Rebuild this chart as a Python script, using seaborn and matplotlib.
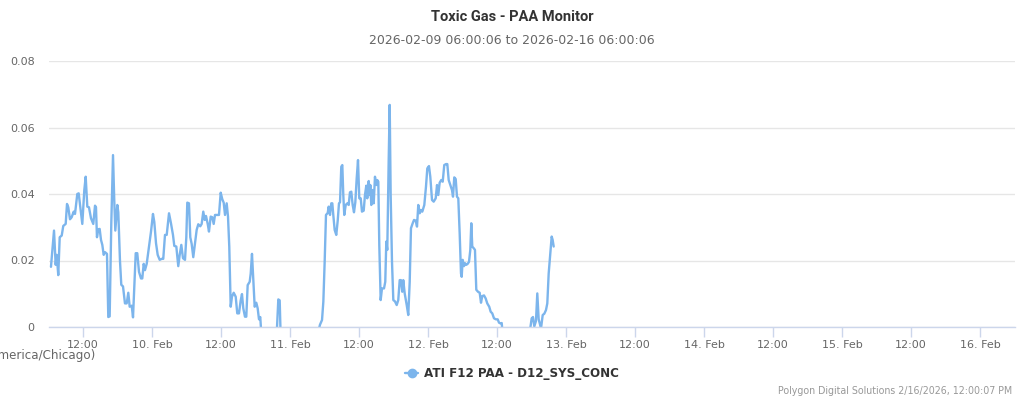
import numpy as np
import pandas as pd
import matplotlib
matplotlib.use("Agg")
import matplotlib.pyplot as plt
import matplotlib.dates as mdates
from matplotlib.ticker import FuncFormatter, FixedLocator
from matplotlib.lines import Line2D
import seaborn as sns

# ---- data: hours since 2026-02-09 00:00 (America/Chicago) and PAA concentration ----
hours = [
    6.43, 6.96, 7.25, 7.43, 7.70, 7.95, 8.30, 8.57, 8.99, 9.22, 9.44, 9.74, 10.03, 10.38, 10.61,
    11.01, 11.25, 11.53, 11.88, 12.23, 12.47, 12.75, 13.04, 13.39, 13.79, 14.09, 14.26, 14.43,
    14.66, 14.90, 15.13, 15.36, 15.60, 15.83, 16.17, 16.40, 16.64, 16.92, 17.22, 17.44, 17.62,
    17.97, 18.14, 18.43, 18.66, 18.96, 19.30, 19.60, 19.88, 20.12, 20.47, 20.70, 20.92, 21.17,
    21.44, 21.74, 22.09, 22.31, 22.56, 22.78, 23.08, 23.48, 23.83, 24.17, 24.40, 24.70, 24.99,
    25.34, 25.69, 25.96, 26.26, 26.56, 26.96, 27.30, 27.65, 27.88, 28.23, 28.57, 28.82, 29.10,
    29.39, 29.74, 29.97, 30.14, 30.43, 30.66, 30.90, 31.18, 31.48, 31.77, 32.05, 32.40, 32.64,
    32.92, 33.17, 33.39, 33.69, 33.91, 34.21, 34.49, 34.73, 34.96, 35.30, 35.65, 35.95, 36.23,
    36.47, 36.70, 36.99, 37.22, 37.44, 37.69, 37.91, 38.21, 38.56, 38.83, 39.13, 39.42, 39.65,
    39.88, 40.17, 40.40, 40.64, 40.99, 41.17, 41.39, 41.62, 41.86, 42.14, 42.38, 42.61, 42.83,
    43.08, 44.52, 45.69, 45.97, 46.21, 46.38, 49.74, 52.97, 53.22, 53.57, 53.80, 54.03, 54.26,
    54.56, 54.73, 54.96, 55.18, 55.36, 55.53, 55.77, 56.05, 56.30, 56.52, 56.70, 56.92, 57.10,
    57.27, 57.44, 57.69, 57.97, 58.21, 58.43, 58.66, 58.90, 59.13, 59.36, 59.60, 59.83, 60.05,
    60.30, 60.52, 60.82, 61.04, 61.27, 61.44, 61.69, 61.86, 61.97, 62.14, 62.38, 62.56, 62.78,
    63.01, 63.18, 63.36, 63.53, 63.77, 64.00, 64.35, 64.57, 64.75, 64.92, 65.16, 65.34, 65.51,
    65.74, 65.97, 66.26, 66.56, 66.83, 67.08, 67.30, 67.53, 67.70, 67.95, 68.30, 68.57, 68.82,
    69.04, 69.34, 69.57, 69.86, 70.09, 70.31, 70.56, 70.78, 71.01, 71.36, 71.65, 71.88, 72.17,
    72.40, 72.70, 72.99, 73.34, 73.57, 73.79, 74.03, 74.31, 74.56, 74.83, 75.13, 75.36, 75.60,
    75.88, 76.17, 76.35, 76.57, 76.82, 77.04, 77.27, 77.51, 77.74, 77.86, 78.03, 78.26, 78.43,
    78.66, 78.90, 79.13, 79.36, 79.53, 79.70, 79.95, 80.17, 80.40, 80.70, 80.99, 81.22, 81.44,
    81.74, 82.03, 82.31, 82.65, 82.90, 83.18, 83.48, 83.83, 84.12, 84.35, 84.58, 84.82, 84.99,
    87.13, 89.74, 90.03, 90.26, 90.49, 90.78, 91.01, 91.25, 91.48, 91.65, 91.95, 92.23, 92.52,
    92.75, 92.99, 93.27, 93.51, 93.68, 93.86,
]
conc = [
    0.0181, 0.0290, 0.0187, 0.0217, 0.0156, 0.0270, 0.0275, 0.0304, 0.0310, 0.0370, 0.0360, 0.0324, 0.0330, 0.0347, 0.0340,
    0.0400, 0.0402, 0.0362, 0.0310, 0.0412, 0.0452, 0.0362, 0.0360, 0.0327, 0.0310, 0.0365, 0.0360, 0.0270,
    0.0294, 0.0295, 0.0262, 0.0247, 0.0217, 0.0225, 0.0220, 0.0030, 0.0032, 0.0310, 0.0517, 0.0380, 0.0290,
    0.0367, 0.0345, 0.0200, 0.0127, 0.0122, 0.0071, 0.0071, 0.0103, 0.0061, 0.0064, 0.0029, 0.0121, 0.0222,
    0.0222, 0.0166, 0.0146, 0.0146, 0.0190, 0.0171, 0.0190, 0.0241, 0.0287, 0.0340, 0.0316, 0.0252, 0.0217,
    0.0202, 0.0205, 0.0205, 0.0277, 0.0277, 0.0342, 0.0312, 0.0277, 0.0244, 0.0242, 0.0183, 0.0217, 0.0247,
    0.0207, 0.0202, 0.0270, 0.0374, 0.0372, 0.0270, 0.0250, 0.0210, 0.0252, 0.0292, 0.0309, 0.0303, 0.0310,
    0.0347, 0.0322, 0.0334, 0.0310, 0.0287, 0.0332, 0.0330, 0.0310, 0.0337, 0.0337, 0.0337, 0.0404, 0.0384,
    0.0374, 0.0337, 0.0372, 0.0332, 0.0242, 0.0061, 0.0091, 0.0103, 0.0091, 0.0041, 0.0041, 0.0079, 0.0099,
    0.0056, 0.0031, 0.0031, 0.0126, 0.0136, 0.0161, 0.0220, 0.0141, 0.0061, 0.0073, 0.0056, 0.0023, 0.0030,
    -0.0040, -0.0060, -0.0020, 0.0083, 0.0080, -0.0030, -0.0060, -0.0010, 0.0007, 0.0021, 0.0076, 0.0196, 0.0337,
    0.0343, 0.0362, 0.0337, 0.0372, 0.0372, 0.0337, 0.0292, 0.0277, 0.0320, 0.0372, 0.0375, 0.0482, 0.0487,
    0.0397, 0.0337, 0.0367, 0.0372, 0.0367, 0.0405, 0.0407, 0.0367, 0.0345, 0.0375, 0.0447, 0.0502, 0.0387,
    0.0387, 0.0347, 0.0350, 0.0397, 0.0425, 0.0387, 0.0439, 0.0397, 0.0427, 0.0367, 0.0412, 0.0372, 0.0452,
    0.0427, 0.0442, 0.0437, 0.0247, 0.0081, 0.0116, 0.0116, 0.0136, 0.0257, 0.0232, 0.0497, 0.0668, 0.0397,
    0.0196, 0.0081, 0.0077, 0.0066, 0.0081, 0.0141, 0.0141, 0.0106, 0.0141, 0.0101, 0.0066, 0.0036, 0.0136,
    0.0297, 0.0312, 0.0322, 0.0320, 0.0302, 0.0367, 0.0342, 0.0352, 0.0347, 0.0367, 0.0422, 0.0477, 0.0484,
    0.0452, 0.0382, 0.0377, 0.0387, 0.0427, 0.0397, 0.0434, 0.0442, 0.0437, 0.0487, 0.0490, 0.0490, 0.0442,
    0.0427, 0.0412, 0.0392, 0.0450, 0.0445, 0.0392, 0.0387, 0.0282, 0.0161, 0.0151, 0.0202, 0.0183, 0.0192,
    0.0187, 0.0190, 0.0196, 0.0232, 0.0312, 0.0242, 0.0237, 0.0232, 0.0112, 0.0106, 0.0103, 0.0073, 0.0093,
    0.0095, 0.0086, 0.0071, 0.0061, 0.0046, 0.0041, 0.0026, 0.0023, 0.0023, 0.0013, 0.0011, 0.0012, -0.0020,
    -0.0060, -0.0010, 0.0026, 0.0030, 0.0002, 0.0018, 0.0101, 0.0023, 0.0008, -0.0005, 0.0036, 0.0040, 0.0051,
    0.0071, 0.0161, 0.0222, 0.0272, 0.0262, 0.0242,
]
yticks = [0, 0.02, 0.04, 0.06, 0.08]
ytick_labels = ["0", "0.02", "0.04", "0.06", "0.08"]
series_name = "ATI F12 PAA - D12_SYS_CONC"
title = "Toxic Gas - PAA Monitor"
subtitle = "2026-02-09 06:00:06 to 2026-02-16 06:00:06"
x_title = "Time (America/Chicago)"
credit = "Polygon Digital Solutions 2/16/2026, 12:00:07 PM"
t_start = pd.Timestamp("2026-02-09 06:00:06")
t_end = pd.Timestamp("2026-02-16 06:00:06")

df = pd.DataFrame({
    "time": pd.Timestamp("2026-02-09") + pd.to_timedelta(hours, unit="h"),
    "conc": conc,
})

sns.set_theme(style="white")
plt.rcParams["font.family"] = ["DejaVu Sans"]

LINE = "#7cb5ec"
fig = plt.figure(figsize=(10.24, 4), dpi=100)
ax = fig.add_axes([48.5 / 1024, 73 / 400, 966 / 1024, 266 / 400])

sns.lineplot(data=df, x="time", y="conc", ax=ax, color=LINE, linewidth=1.7,
             estimator=None, sort=False, legend=False)

ax.set_xlim(t_start, t_end)
ax.set_ylim(0, 0.08)
ax.yaxis.set_major_locator(FixedLocator(yticks))
ax.set_yticklabels(ytick_labels)
ax.grid(axis="y", color="#e6e6e6", linewidth=1)
ax.grid(axis="x", visible=False)
for s in ["top", "right", "left"]:
    ax.spines[s].set_visible(False)
ax.spines["bottom"].set_color("#ccd6eb")
ax.spines["bottom"].set_linewidth(1)

ax.xaxis.set_major_locator(mdates.HourLocator(byhour=[0, 12]))
def fmt(x, pos):
    d = mdates.num2date(x)
    return d.strftime("%H:%M") if d.hour == 12 else f"{d.day}. {d.strftime('%b')}"
ax.xaxis.set_major_formatter(FuncFormatter(fmt))
ax.tick_params(axis="x", which="major", bottom=True, length=7, width=1,
               color="#ccd6eb", labelcolor="#666666", labelsize=8, pad=2, direction="out")
ax.tick_params(axis="y", length=0, labelsize=8, pad=10, labelcolor="#666666")
ax.set_xlabel("")
ax.set_ylabel("")

fig.text(95 / 1024, 1 - 356 / 400, x_title, ha="right", va="center",
         fontsize=8.6, color="#666666")

fig.text(0.5, 1 - 17 / 400, title, ha="center", va="center", fontsize=10.5,
         fontweight="bold", color="#333333",
         family=["Liberation Sans Narrow", "Roboto", "DejaVu Sans"])
fig.text(0.5, 1 - 41 / 400, subtitle, ha="center", va="center", fontsize=9,
         color="#666666")

handle = Line2D([], [], color=LINE, linewidth=1.7, marker="o", markersize=6)
fig.legend([handle], [series_name], loc="center", bbox_to_anchor=(512 / 1024, 1 - 374 / 400),
           frameon=False, handlelength=1.1, handletextpad=0.5,
           prop={"weight": "bold", "size": 8.6}, labelcolor="#333333")

fig.text(1012 / 1024, 1 - 391 / 400, credit, ha="right", va="center",
         fontsize=6.85, color="#999999")

fig.savefig("out.png", dpi=100)
